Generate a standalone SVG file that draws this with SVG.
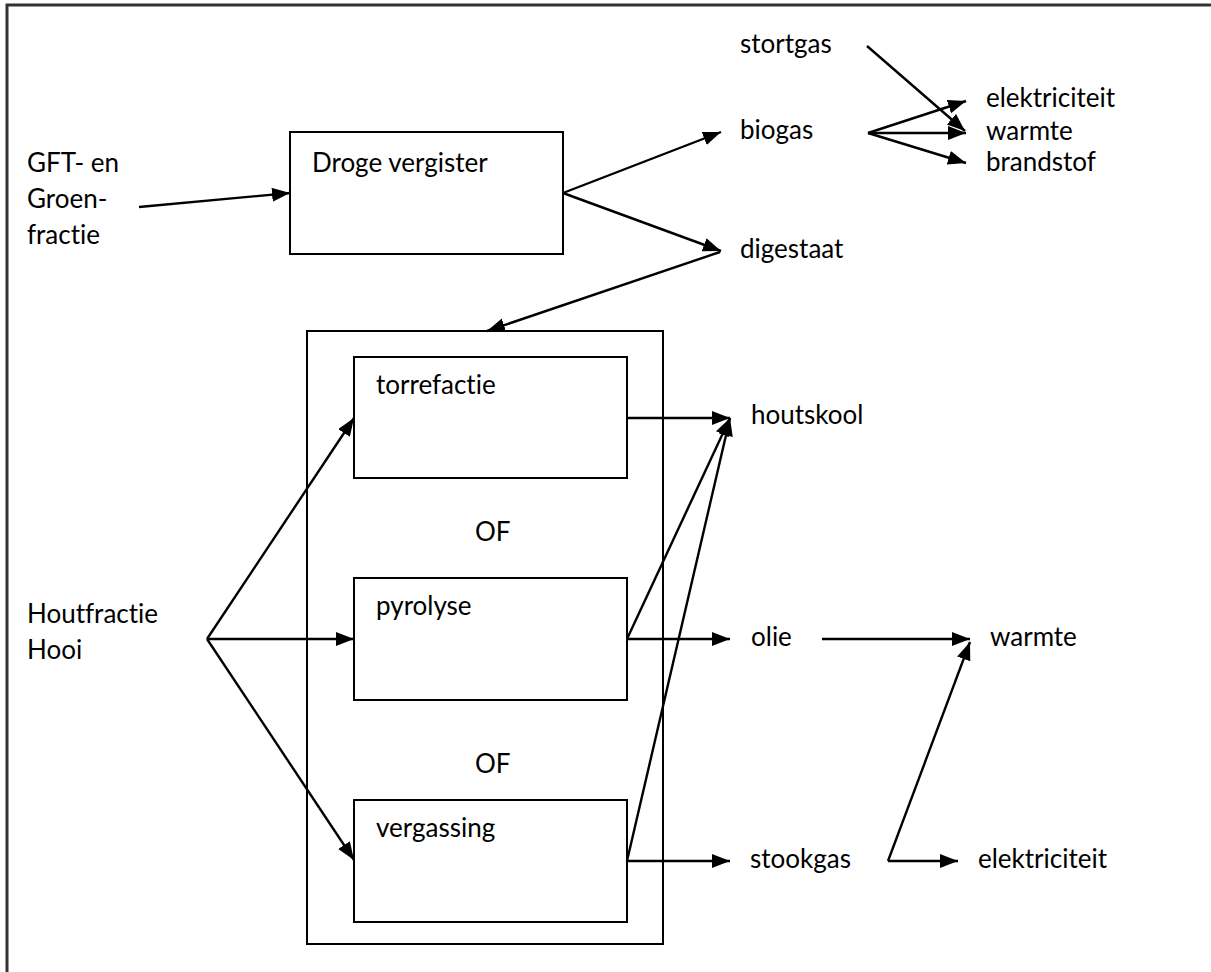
<svg xmlns="http://www.w3.org/2000/svg" width="1211" height="972" viewBox="0 0 1211 972">
<defs>
<marker id="ah" markerUnits="userSpaceOnUse" markerWidth="20" markerHeight="16" refX="18" refY="7" orient="auto">
<path d="M0,0 L18,7 L0,14 z" fill="#000"/>
</marker>
</defs>
<style>
text{font-family:Lato,"Open Sans","Liberation Sans",sans-serif;font-size:26px;fill:#000;font-variant-ligatures:none;font-feature-settings:"liga" 0}
.box{fill:none;stroke:#000;stroke-width:2}
.c{stroke:#000;stroke-width:2.4;fill:none;marker-end:url(#ah)}
</style>
<rect x="7" y="5" width="1240" height="1000" fill="#fff" stroke="#333" stroke-width="3"/>
<g id="gft"><text x="27" y="172">GFT- en</text><text x="27" y="208">Groen-</text><text x="27" y="244">fractie</text></g>
<g id="droge"><rect class="box" x="290" y="132" width="273" height="122"/><text x="312" y="172">Droge vergister</text></g>
<g id="stortgas"><text x="740" y="53">stortgas</text></g>
<g id="biogas"><text x="740" y="139">biogas</text></g>
<g id="digestaat"><text x="740" y="258">digestaat</text></g>
<g id="elek1"><text x="986" y="107">elektriciteit</text></g>
<g id="warmte1"><text x="986" y="140">warmte</text></g>
<g id="brandstof"><text x="986" y="171">brandstof</text></g>
<g id="container"><rect class="box" x="307" y="331" width="356" height="613"/></g>
<g id="torrefactie"><rect class="box" x="354" y="357" width="273" height="121"/><text x="376" y="394">torrefactie</text></g>
<g id="of1"><text x="475" y="541">OF</text></g>
<g id="pyrolyse"><rect class="box" x="354" y="578" width="273" height="122"/><text x="376" y="615">pyrolyse</text></g>
<g id="of2"><text x="475" y="773">OF</text></g>
<g id="vergassing"><rect class="box" x="354" y="800" width="273" height="122"/><text x="376" y="837">vergassing</text></g>
<g id="hout"><text x="27" y="623">Houtfractie</text><text x="27" y="659">Hooi</text></g>
<g id="houtskool"><text x="751" y="424">houtskool</text></g>
<g id="olie"><text x="751" y="646">olie</text></g>
<g id="warmte2"><text x="990" y="646">warmte</text></g>
<g id="stookgas"><text x="750" y="868">stookgas</text></g>
<g id="elek2"><text x="978" y="868">elektriciteit</text></g>
<g id="connectors">
<line class="c" x1="139" y1="207" x2="290" y2="193"/>
<line class="c" x1="563" y1="193" x2="721" y2="132"/>
<line class="c" x1="563" y1="193" x2="721" y2="251"/>
<line class="c" x1="720" y1="252" x2="487" y2="331"/>
<line class="c" x1="867" y1="46" x2="965" y2="131"/>
<line class="c" x1="868" y1="133" x2="966" y2="101"/>
<line class="c" x1="868" y1="133" x2="966" y2="133"/>
<line class="c" x1="868" y1="133" x2="966" y2="163"/>
<line class="c" x1="207" y1="639" x2="354" y2="418"/>
<line class="c" x1="207" y1="639" x2="354" y2="639"/>
<line class="c" x1="207" y1="639" x2="354" y2="860"/>
<line class="c" x1="627" y1="418" x2="730" y2="418"/>
<line class="c" x1="627" y1="639" x2="730" y2="418"/>
<line class="c" x1="627" y1="639" x2="730" y2="639"/>
<line class="c" x1="627" y1="861" x2="730" y2="418"/>
<line class="c" x1="627" y1="861" x2="730" y2="861"/>
<line class="c" x1="822" y1="639" x2="970" y2="639"/>
<line class="c" x1="888" y1="861" x2="970" y2="642"/>
<line class="c" x1="888" y1="861" x2="958" y2="861"/>
</g>
</svg>
